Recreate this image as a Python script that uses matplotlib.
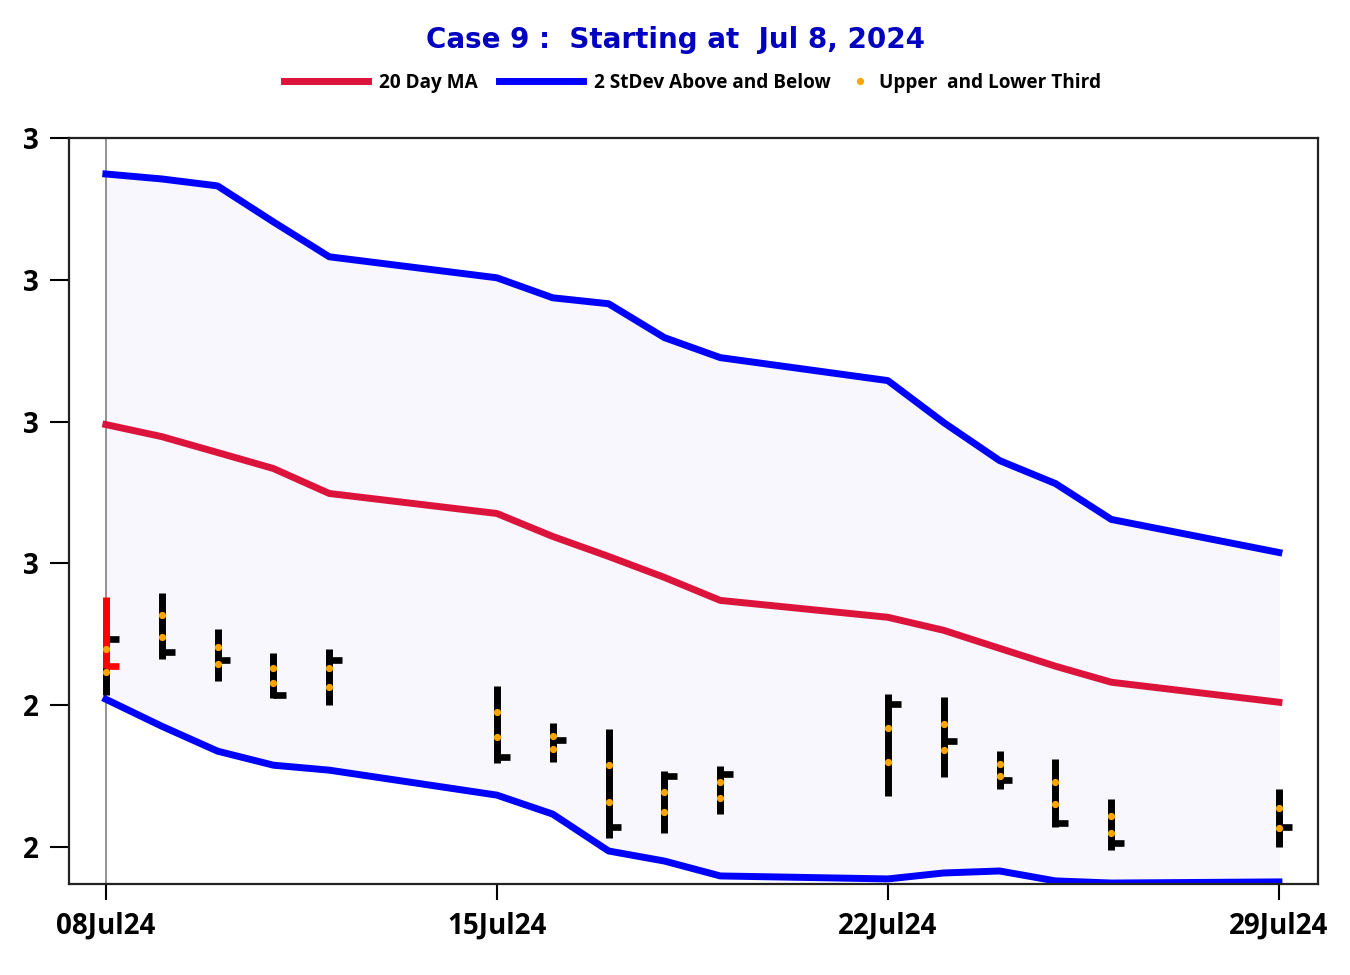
import numpy as np
import pandas as pd
import matplotlib
matplotlib.use('Agg')
import matplotlib.pyplot as plt
import matplotlib.dates as mdates
from matplotlib.lines import Line2D
from matplotlib.ticker import FormatStrFormatter

# trading days
dates = pd.to_datetime(['2024-07-08', '2024-07-09', '2024-07-10', '2024-07-11', '2024-07-12',
                        '2024-07-15', '2024-07-16', '2024-07-17', '2024-07-18', '2024-07-19',
                        '2024-07-22', '2024-07-23', '2024-07-24', '2024-07-25', '2024-07-26',
                        '2024-07-29'])

# bandas
upper = [2.8746, 2.8711, 2.8662, 2.8408, 2.8162, 2.8014, 2.7873, 2.7831, 2.7592, 2.7451,
         2.7289, 2.6993, 2.6725, 2.6563, 2.6310, 2.6077]
ma20 = [2.6979, 2.6894, 2.6782, 2.6669, 2.6493, 2.6352, 2.6190, 2.6049, 2.5901, 2.5739,
        2.5620, 2.5528, 2.5401, 2.5275, 2.5162, 2.5021]
lower = [2.5042, 2.4852, 2.4676, 2.4577, 2.4542, 2.4366, 2.4232, 2.3972, 2.3901, 2.3796,
         2.3775, 2.3817, 2.3831, 2.3761, 2.3746, 2.3754]

# barras HLC
high = [2.5556, 2.5789, 2.5535, 2.5366, 2.5394, 2.5134, 2.4873, 2.4831, 2.4535, 2.4570,
        2.5077, 2.5056, 2.4676, 2.4620, 2.4338, 2.4408]
low = [2.5070, 2.5324, 2.5169, 2.5049, 2.5000, 2.4592, 2.4599, 2.4063, 2.4099, 2.4232,
       2.4359, 2.4493, 2.4408, 2.4141, 2.3979, 2.4000]
close = [2.5465, 2.5373, 2.5317, 2.5070, 2.5317, 2.4634, 2.4754, 2.4141, 2.4500, 2.4514,
         2.5007, 2.4746, 2.4472, 2.4169, 2.4028, 2.4141]

# barra de inicio (roja)
start_high = 2.5761
start_low = 2.5261
start_close = 2.5275

yticks = [2.4, 2.5, 2.6, 2.7, 2.8, 2.9]
xticks = pd.to_datetime(['2024-07-08', '2024-07-15', '2024-07-22', '2024-07-29'])

x = mdates.date2num(dates)
high = np.array(high)
low = np.array(low)
rng = high - low

fig = plt.figure(figsize=(13.5, 9.75), dpi=100)
ax = fig.add_axes([0.0511, 0.0933, 0.9252, 0.7652])

ax.fill_between(x, lower, upper, color='#F7F7FD', zorder=0)
ax.plot(x, upper, color='blue', lw=5, zorder=2)
ax.plot(x, lower, color='blue', lw=5, zorder=2)
ax.plot(x, ma20, color='crimson', lw=5, zorder=2)

ax.axvline(x[0], color='gray', lw=1.2, zorder=1)

tick = 0.23
ax.vlines(x, low, high, color='black', lw=5, zorder=3)
ax.hlines(close, x, x + tick, color='black', lw=4.8, zorder=3)
ax.plot(x, high - rng / 3, 'o', color='orange', ms=5.2, mec='none', zorder=5)
ax.plot(x, low + rng / 3, 'o', color='orange', ms=5.2, mec='none', zorder=5)

ax.vlines(x[0], start_low, start_high, color='red', lw=5, zorder=4)
ax.hlines(start_close, x[0], x[0] + tick, color='red', lw=4.8, zorder=4)

ax.set_xlim(x[0] - 0.66, x[0] + 21.70)
ax.set_ylim(2.3739, 2.8993)
ax.set_xticks(mdates.date2num(xticks))
ax.set_xticklabels([d.strftime('%d%b%y') for d in xticks])
ax.set_yticks(yticks)
ax.yaxis.set_major_formatter(FormatStrFormatter('%.0f'))

for lab in ax.get_xticklabels() + ax.get_yticklabels():
    lab.set_fontfamily('Open Sans')
    lab.set_fontweight('bold')
    lab.set_fontsize(20)
ax.tick_params(axis='y', length=13.5, width=1.5, pad=8)
ax.tick_params(axis='x', length=11.5, width=1.5, pad=8)
for s in ax.spines.values():
    s.set_linewidth(1.6)
    s.set_color('#222222')

fig.text(0.5, 0.959, 'Case 9 :  Starting at  Jul 8, 2024', ha='center', va='center',
         color='#0000C0', fontsize=20, fontweight='bold', family='DejaVu Sans')

h1 = Line2D([], [], color='crimson', lw=5)
h2 = Line2D([], [], color='blue', lw=5)
h3 = Line2D([], [], color='orange', marker='o', ls='none', ms=5.2, mec='none')
lp = dict(family='Open Sans', weight='bold', size=13.7)
leg1 = fig.legend([h1, h2], ['20 Day MA', '2 StDev Above and Below'], loc='center left',
                  bbox_to_anchor=(0.2104, 0.915), ncol=2, frameon=False, prop=lp,
                  handlelength=4.4, handletextpad=0.6, columnspacing=1.1,
                  borderpad=0, borderaxespad=0)
leg2 = fig.legend([h3], ['Upper  and Lower Third'], loc='center left',
                  bbox_to_anchor=(0.6286, 0.915), frameon=False, prop=lp,
                  handlelength=1.2, handletextpad=0.4, borderpad=0, borderaxespad=0)

fig.savefig('out.png', dpi=100)
